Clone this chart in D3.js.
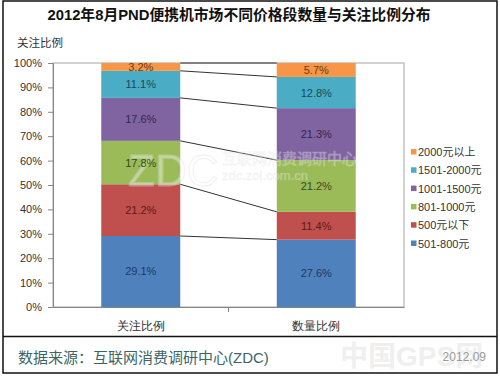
<!DOCTYPE html>
<html lang="zh">
<head>
<meta charset="UTF-8">
<title>2012年8月PND便携机市场不同价格段数量与关注比例分布</title>
<style>
  body { margin: 0; background: #fff; }
  svg { display: block; font-family: "Liberation Sans", "Noto Sans CJK SC", sans-serif; }
</style>
</head>
<body>
<svg id="chart" width="500" height="376"></svg>
<script src="https://d3js.org/d3.v7.min.js"></script>
<script>
// data (stack order: bottom -> top)
var categories = ["关注比例", "数量比例"];
var seriesNames = ["501-800元", "500元以下", "801-1000元", "1001-1500元", "1501-2000元", "2000元以上"];
var attention = [29.1, 21.2, 17.8, 17.6, 11.1, 3.2];
var quantity  = [27.6, 11.4, 21.2, 21.3, 12.8, 5.7];
var yTicks = [0, 10, 20, 30, 40, 50, 60, 70, 80, 90, 100];

var colors = ["#4F81BD", "#C0504D", "#9BBB59", "#8064A2", "#4BACC6", "#F79646"];
var labelColors = ["#1d3a66", "#5e1a18", "#3a4a18", "#35254d", "#164a5a", "#6b3a10"];

var svg = d3.select("#chart");

var rows = categories.map(function(c, i) {
    var vals = i === 0 ? attention : quantity;
    var r = { cat: c };
    seriesNames.forEach(function(s, j) { r[s] = vals[j]; });
    return r;
});
var stacked = d3.stack().keys(seriesNames)(rows);

var x = d3.scaleBand().domain(categories).range([53, 404]).paddingInner(0.55).paddingOuter(0.275);
var y = d3.scaleLinear().domain([0, 100]).range([307, 63]);

// outer frame + footer separator
svg.append("rect").attr("x", 3).attr("y", 1).attr("width", 494).attr("height", 372)
   .attr("fill", "none").attr("stroke", "#111").attr("stroke-width", 1.5);
svg.append("line").attr("x1", 3).attr("x2", 497).attr("y1", 336.5).attr("y2", 336.5)
   .attr("stroke", "#111").attr("stroke-width", 1.5);

// title
svg.append("text").attr("x", 239).attr("y", 20).attr("text-anchor", "middle")
   .style("font-size", "14.8px").style("font-weight", "bold").attr("fill", "#111")
   .text("2012年8月PND便携机市场不同价格段数量与关注比例分布");

svg.append("text").attr("x", 17).attr("y", 47)
   .style("font-size", "11.5px").attr("fill", "#333").text("关注比例");

// plot area border
svg.append("rect").attr("x", 53).attr("y", 63).attr("width", 351).attr("height", 244)
   .attr("fill", "none").attr("stroke", "#a6a6a6").attr("stroke-width", 1);

// bars
var layer = svg.append("g").selectAll("g").data(stacked).enter().append("g")
   .attr("fill", function(d, i) { return colors[i]; });
layer.selectAll("rect").data(function(d) { return d; }).enter().append("rect")
   .attr("x", function(d) { return x(d.data.cat); })
   .attr("y", function(d) { return y(d[1]); })
   .attr("width", x.bandwidth())
   .attr("height", function(d) { return y(d[0]) - y(d[1]); });

// series connector lines
svg.append("g").selectAll("line").data(stacked).enter().append("line")
   .attr("x1", x(categories[0]) + x.bandwidth())
   .attr("x2", x(categories[1]))
   .attr("y1", function(d) { return y(d[0][1]); })
   .attr("y2", function(d) { return y(d[1][1]); })
   .attr("stroke", "#333").attr("stroke-width", 1);

// watermark (drawn under the labels)
var wm = svg.append("g").attr("opacity", 0.4);
wm.append("text").attr("x", 128).attr("y", 186).style("font-size", "44px")
   .attr("fill", "#fff").attr("stroke", "#ddd").attr("stroke-width", 1).text("ZDC");
wm.append("text").attr("x", 222).attr("y", 164).style("font-size", "15px")
   .attr("fill", "#fff").attr("stroke", "#ddd").attr("stroke-width", 0.6).text("互联网消费调研中心");
wm.append("text").attr("x", 222).attr("y", 180).style("font-size", "13px")
   .attr("fill", "#fff").attr("stroke", "#ddd").attr("stroke-width", 0.6).text("zdc.zol.com.cn");

// data labels
stacked.forEach(function(s, i) {
    svg.append("g").selectAll("text").data(s).enter().append("text")
       .attr("x", function(d) { return x(d.data.cat) + x.bandwidth() / 2; })
       .attr("y", function(d) { return (y(d[0]) + y(d[1])) / 2 + 4; })
       .attr("text-anchor", "middle")
       .style("font-size", "11px")
       .attr("fill", labelColors[i])
       .text(function(d) { return (d[1] - d[0]).toFixed(1) + "%"; });
});

// y axis
var yAxis = svg.append("g").attr("transform", "translate(53,0)")
   .call(d3.axisLeft(y).tickValues(yTicks).tickSize(5).tickPadding(6)
   .tickFormat(function(d) { return d + "%"; }));
yAxis.select(".domain").attr("stroke", "#868686");
yAxis.selectAll("line").attr("stroke", "#868686");
yAxis.selectAll("text").style("font-size", "11px").attr("fill", "#333")
   .style("font-family", "Liberation Sans, sans-serif");

// x axis
var xAxis = svg.append("g").attr("transform", "translate(0,307)")
   .call(d3.axisBottom(x).tickSize(0).tickPadding(15));
xAxis.select(".domain").attr("stroke", "#868686");
xAxis.selectAll("text").style("font-size", "11.5px").attr("fill", "#333");
xAxis.append("line").attr("x1", 228.5).attr("x2", 228.5).attr("y1", 0).attr("y2", 5)
   .attr("stroke", "#868686");

// legend (top -> bottom is reverse of stack)
var legend = svg.append("g").selectAll("g").data(seriesNames.slice().reverse()).enter().append("g")
   .attr("transform", function(d, i) { return "translate(411," + (152 + i * 18.3) + ")"; });
legend.append("rect").attr("x", 0).attr("y", -3).attr("width", 5.5).attr("height", 5.5)
   .attr("fill", function(d) { return colors[seriesNames.indexOf(d)]; });
legend.append("text").attr("x", 7).attr("y", 4).style("font-size", "11px").attr("fill", "#333")
   .text(function(d) { return d; });

// footer
svg.append("text").attr("x", 340).attr("y", 366)
   .style("font-size", "28px").style("font-weight", "bold").attr("fill", "#efefef")
   .text("中国GPS网");
svg.append("text").attr("x", 18).attr("y", 363).style("font-size", "15px").attr("fill", "#3c6666")
   .text("数据来源：互联网消费调研中心(ZDC)");
svg.append("text").attr("x", 486).attr("y", 361).attr("text-anchor", "end")
   .style("font-size", "12px").attr("fill", "#999").text("2012.09");
</script>
</body>
</html>
